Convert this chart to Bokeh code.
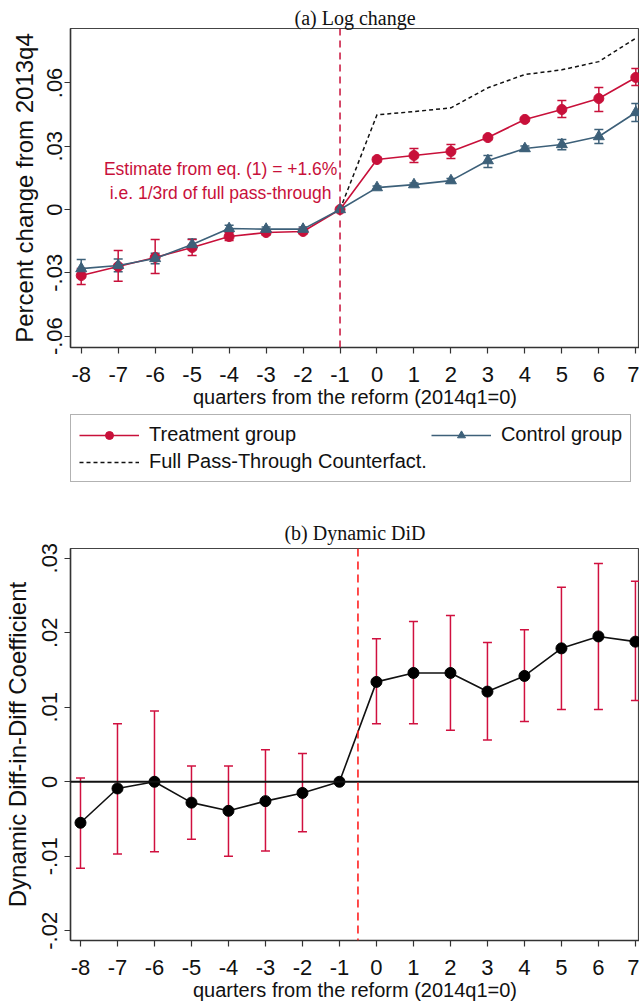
from bokeh.plotting import figure
from bokeh.models import (ColumnDataSource, Whisker, TeeHead, Span, Legend, LegendItem,
                          FixedTicker)
from bokeh.layouts import column
from bokeh.core.properties import value
from bokeh.embed import file_html
from bokeh.resources import INLINE

# ---------------- data ----------------
quarters = [-8, -7, -6, -5, -4, -3, -2, -1, 0, 1, 2, 3, 4, 5, 6, 7]
x_tick_labels = ["-8", "-7", "-6", "-5", "-4", "-3", "-2", "-1", "0", "1", "2", "3", "4", "5", "6", "7"]

treat = [-0.0313, -0.0270, -0.0227, -0.0180, -0.0128, -0.0109, -0.0104, 0.0,
         0.0237, 0.0256, 0.0275, 0.0341, 0.0427, 0.0474, 0.0526, 0.0626]
treat_lo = [-0.0355, -0.0340, -0.0303, -0.0218, -0.0147, -0.0120, -0.0114, 0.0,
            0.0227, 0.0223, 0.0242, 0.0332, 0.0419, 0.0436, 0.0465, 0.0588]
treat_hi = [-0.0280, -0.0194, -0.0142, -0.0142, -0.0109, -0.0098, -0.0094, 0.0,
            0.0247, 0.0289, 0.0308, 0.0350, 0.0435, 0.0517, 0.0578, 0.0668]

control = [-0.0280, -0.0265, -0.0232, -0.0166, -0.0090, -0.0093, -0.0093, 0.0,
           0.0104, 0.0118, 0.0137, 0.0232, 0.0289, 0.0308, 0.0346, 0.0460]
control_lo = [-0.0322, -0.0295, -0.0257, -0.0190, -0.0105, -0.0103, -0.0103, 0.0,
              0.0096, 0.0110, 0.0127, 0.0199, 0.0277, 0.0283, 0.0313, 0.0417]
control_hi = [-0.0237, -0.0235, -0.0207, -0.0140, -0.0075, -0.0083, -0.0083, 0.0,
              0.0112, 0.0126, 0.0147, 0.0256, 0.0301, 0.0332, 0.0379, 0.0502]

cf_quarters = [-1, 0, 1, 2, 3, 4, 5, 6, 7]
counterfactual = [0.0, 0.0449, 0.0464, 0.0482, 0.0577, 0.0640, 0.0662, 0.0701, 0.0812]

top_y_ticks = [-0.06, -0.03, 0.0, 0.03, 0.06]
top_y_tick_labels = ["-.06", "-.03", "0", ".03", ".06"]
top_reform_line = -1

note_lines = ["Estimate from eq. (1) = +1.6%", "i.e. 1/3rd of full pass-through"]
note_x = [-4.23, -4.23]
note_y = [0.0194, 0.0076]

legend_labels = ["Treatment group", "Control group", "Full Pass-Through Counterfact."]

did = [-0.0055, -0.0009, 0.0, -0.0028, -0.0039, -0.0026, -0.0015, 0.0,
       0.0134, 0.0146, 0.0146, 0.0121, 0.0142, 0.0179, 0.0195, 0.0188]
did_lo = [-0.0116, -0.0097, -0.0094, -0.0077, -0.0100, -0.0093, -0.0067, 0.0,
          0.0078, 0.0078, 0.0069, 0.0056, 0.0081, 0.0097, 0.0097, 0.0109]
did_hi = [0.0005, 0.0078, 0.0095, 0.0021, 0.0021, 0.0043, 0.0038, 0.0,
          0.0192, 0.0215, 0.0223, 0.0187, 0.0204, 0.0261, 0.0293, 0.0269]

bottom_y_ticks = [-0.02, -0.01, 0.0, 0.01, 0.02, 0.03]
bottom_y_tick_labels = ["-.02", "-.01", "0", ".01", ".02", ".03"]
bottom_reform_line = -0.5

# ---------------- styles ----------------
RED = "#C8103A"
BLUE = "#3D6079"
SANS = "Liberation Sans"
SERIF = "Liberation Serif"
AXIS_COL = "#333333"


def style_axes(p, xlab, ylab, yticks, ylabels, ystand, ylabstand):
    p.xaxis.ticker = FixedTicker(ticks=quarters)
    p.xaxis.major_label_overrides = {q: l for q, l in zip(quarters, x_tick_labels)}
    p.yaxis.ticker = FixedTicker(ticks=yticks)
    p.yaxis.major_label_overrides = {t: l for t, l in zip(yticks, ylabels)}
    p.yaxis.major_label_orientation = "vertical"
    p.xaxis.axis_label = xlab
    p.yaxis.axis_label = ylab
    for ax in (p.xaxis[0], p.yaxis[0]):
        ax.axis_line_color = AXIS_COL
        ax.axis_line_width = 1.5
        ax.major_tick_line_color = AXIS_COL
        ax.major_tick_line_width = 1.2
        ax.major_tick_out = 6
        ax.major_tick_in = 0
        ax.minor_tick_line_color = None
        ax.major_label_text_font = SANS
        ax.major_label_text_font_size = "22px"
        ax.major_label_text_color = "#111111"
        ax.axis_label_text_font = SANS
        ax.axis_label_text_font_style = "normal"
        ax.axis_label_text_color = "#111111"
    p.xaxis.axis_label_text_font_size = "20px"
    p.yaxis.axis_label_text_font_size = "24px"
    p.xaxis.major_label_standoff = 13
    p.xaxis.axis_label_standoff = 1
    p.yaxis.major_label_standoff = ystand
    p.yaxis.axis_label_standoff = ylabstand
    p.xgrid.visible = False
    p.ygrid.visible = False
    p.outline_line_color = "#444444"
    p.outline_line_width = 1.2
    p.title.text_font = SERIF
    p.title.text_font_style = "normal"
    p.title.text_font_size = "20px"
    p.title.align = "center"
    p.title.text_color = "#111111"


# ---------------- panel (a) ----------------
p1 = figure(width=639, height=410, x_range=(-8.29, 7.1), y_range=(-0.0654, 0.0858),
            output_backend="svg", toolbar_location=None, title="(a) Log change",
            min_border_left=63, min_border_right=0, min_border_top=28, min_border_bottom=63)
style_axes(p1, "quarters from the reform (2014q1=0)", "Percent change from 2013q4",
           top_y_ticks, top_y_tick_labels, 2, 7)
p1.title.standoff = 0

p1.add_layout(Span(location=top_reform_line, dimension="height", line_color=RED,
                   line_width=1.5, line_dash="7 5"))

t_err = ColumnDataSource(dict(
    x=[q for q, lo, hi in zip(quarters, treat_lo, treat_hi) if hi > lo],
    lo=[lo for lo, hi in zip(treat_lo, treat_hi) if hi > lo],
    hi=[hi for lo, hi in zip(treat_lo, treat_hi) if hi > lo]))
c_err = ColumnDataSource(dict(
    x=[q for q, lo, hi in zip(quarters, control_lo, control_hi) if hi > lo],
    lo=[lo for lo, hi in zip(control_lo, control_hi) if hi > lo],
    hi=[hi for lo, hi in zip(control_lo, control_hi) if hi > lo]))

for src, col in ((c_err, BLUE), (t_err, RED)):
    p1.add_layout(Whisker(source=src, base="x", lower="lo", upper="hi",
                          line_color=col, line_width=1.5,
                          upper_head=TeeHead(size=9, line_color=col, line_width=1.5),
                          lower_head=TeeHead(size=9, line_color=col, line_width=1.5)))

p1.line(cf_quarters, counterfactual, line_color="#111111", line_width=1.5, line_dash="4 3")
p1.line(quarters, treat, line_color=RED, line_width=1.6)
p1.scatter(quarters, treat, marker="circle", size=10, fill_color=RED, line_color=RED)
p1.line(quarters, control, line_color=BLUE, line_width=1.6)
p1.scatter(quarters, control, marker="triangle", size=11, fill_color=BLUE, line_color=BLUE)

p1.text(x=note_x, y=note_y, text=note_lines, text_font=value(SANS),
        text_font_size="17.5px", text_color=RED, text_align="center",
        text_baseline="middle")

# ---------------- legend strip (same series, ranges set so they stay out of view) ----
pl = figure(width=639, height=90, x_range=(100, 101), y_range=(100, 101),
            x_axis_type=None, y_axis_type=None, output_backend="svg",
            toolbar_location=None, min_border=0, min_border_left=0, min_border_right=0,
            min_border_top=0, min_border_bottom=0)
pl.outline_line_color = None
lt_line = pl.line(quarters, treat, line_color=RED, line_width=1.6)
lt_pts = pl.scatter(quarters, treat, marker="circle", size=10, fill_color=RED, line_color=RED)
lc_line = pl.line(quarters, control, line_color=BLUE, line_width=1.6)
lc_pts = pl.scatter(quarters, control, marker="triangle", size=11, fill_color=BLUE,
                    line_color=BLUE)
lf_line = pl.line(cf_quarters, counterfactual, line_color="#111111", line_width=1.5,
                  line_dash="4 3")

# column-major fill: col 1 = Treatment, Full; col 2 = Control
legend = Legend(items=[
    LegendItem(label=legend_labels[0], renderers=[lt_line, lt_pts]),
    LegendItem(label=legend_labels[2], renderers=[lf_line]),
    LegendItem(label=legend_labels[1], renderers=[lc_line, lc_pts]),
], ncols=2, location=(0, 18), margin=0,
    label_text_font=SANS, label_text_font_size="20px", label_text_color="#111111",
    glyph_width=60, glyph_height=20, label_standoff=10, spacing=4, padding=8,
    border_line_color="#666666", border_line_width=1.2, background_fill_alpha=1.0)
pl.add_layout(legend, "center")

# ---------------- panel (b) ----------------
p2 = figure(width=639, height=503, x_range=(-8.27, 7.11), y_range=(-0.0213, 0.0313),
            output_backend="svg", toolbar_location=None, title="(b) Dynamic DiD",
            min_border_left=68, min_border_right=0, min_border_top=48, min_border_bottom=62)
style_axes(p2, "quarters from the reform (2014q1=0)", "Dynamic Diff-in-Diff Coefficient",
           bottom_y_ticks, bottom_y_tick_labels, 7, 9)
p2.title.standoff = 9

p2.add_layout(Span(location=0, dimension="width", line_color="#111111", line_width=2.2))
p2.add_layout(Span(location=bottom_reform_line, dimension="height", line_color="#FF2020",
                   line_width=1.6, line_dash="8 5"))

d_err = ColumnDataSource(dict(
    x=[q for q, lo, hi in zip(quarters, did_lo, did_hi) if hi > lo],
    lo=[lo for lo, hi in zip(did_lo, did_hi) if hi > lo],
    hi=[hi for lo, hi in zip(did_lo, did_hi) if hi > lo]))
p2.add_layout(Whisker(source=d_err, base="x", lower="lo", upper="hi",
                      line_color="#D0103F", line_width=1.5,
                      upper_head=TeeHead(size=9, line_color="#D0103F", line_width=1.5),
                      lower_head=TeeHead(size=9, line_color="#D0103F", line_width=1.5)))
p2.line(quarters, did, line_color="#111111", line_width=1.6)
p2.scatter(quarters, did, marker="circle", size=11, fill_color="#000000",
           line_color="#000000")

layout = column(p1, pl, p2, spacing=0)
open("out.html", "w").write(file_html(layout, INLINE))
